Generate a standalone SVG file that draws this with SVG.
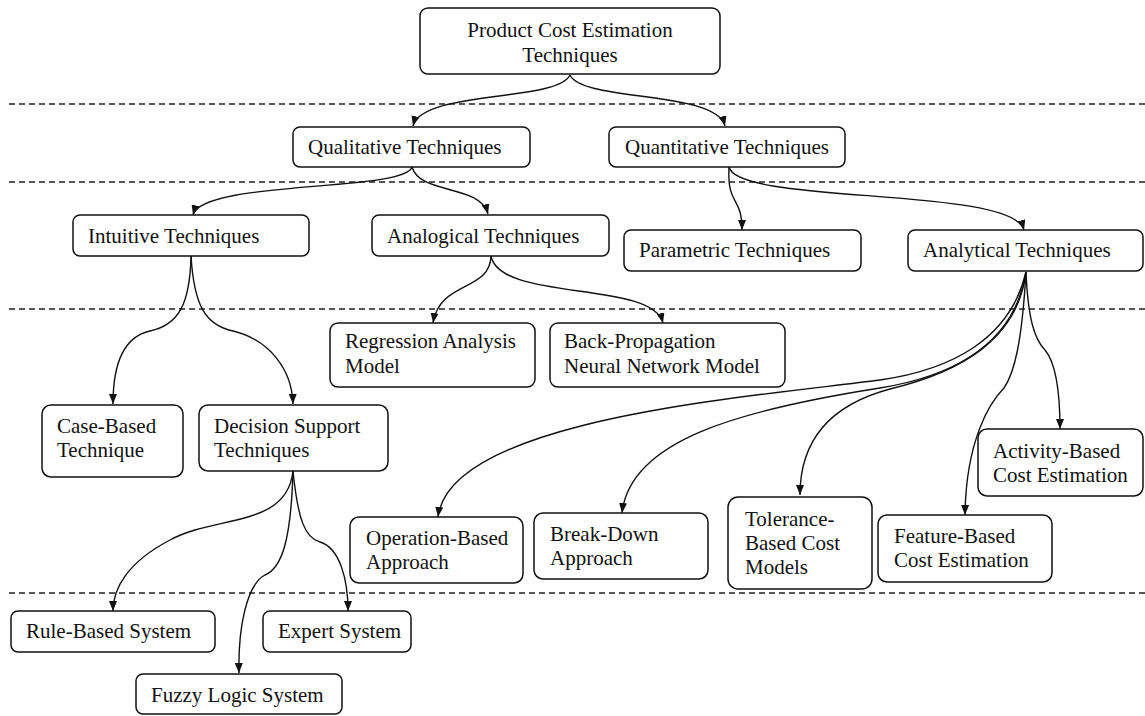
<svg xmlns="http://www.w3.org/2000/svg" width="1145" height="716" viewBox="0 0 1145 716">
  <style>
    .box { fill: #fff; stroke: #111; stroke-width: 1.5; }
    .lbl { font-family: "Liberation Serif", "Times New Roman", serif; font-size: 21px; fill: #111; }
    .sep { stroke: #222; stroke-width: 1.4; stroke-dasharray: 6 4; fill: none; }
    .edge { fill: none; stroke: #111; stroke-width: 1.4; marker-end: url(#arrow); }
  </style>
  <defs>
    <marker id="arrow" viewBox="0 0 10 8" refX="10" refY="4" markerWidth="10" markerHeight="8" markerUnits="userSpaceOnUse" orient="auto">
      <path d="M0,0 L10,4 L0,8 z" fill="#111"/>
    </marker>
  </defs>
  <rect width="1145" height="716" fill="#fff"/>

  <!-- level separators -->
  <g id="separators">
    <line class="sep" x1="9" y1="104" x2="1145" y2="104"/>
    <line class="sep" x1="9" y1="182" x2="1145" y2="182"/>
    <line class="sep" x1="9" y1="309" x2="1145" y2="309"/>
    <line class="sep" x1="9" y1="593" x2="1145" y2="593"/>
  </g>

  <!-- connectors -->
  <g id="connectors">
    <path class="edge" d="M570,75 C558,102 422,90 413,126"/>
    <path class="edge" d="M570,75 C582,102 716,90 725,126"/>
    <path class="edge" d="M412,167 C405,192 202,180 193,215"/>
    <path class="edge" d="M412,167 C420,195 480,184 488,214"/>
    <path class="edge" d="M729,167 C727,207 742,195 742,230"/>
    <path class="edge" d="M729,167 C738,205 1012,186 1024,230"/>
    <path class="edge" d="M191,256 C190,305 178,325 150,331 C118,338 113,375 113,404"/>
    <path class="edge" d="M191,256 C194,305 205,325 233,331 C270,340 292,370 293,404"/>
    <path class="edge" d="M491,256 C490,292 440,280 433,323"/>
    <path class="edge" d="M491,256 C500,302 652,280 663,323"/>
    <path class="edge" d="M293,471 C287,528 215,515 170,540 C128,562 113,588 113,611"/>
    <path class="edge" d="M293,471 C291,540 282,568 265,575 C246,585 238,630 239,673"/>
    <path class="edge" d="M293,471 C298,520 305,538 320,542 C340,548 348,580 348,611"/>
    <path class="edge" d="M1026,272 C1010,340 950,370 880,380 C740,398 450,420 438,517"/>
    <path class="edge" d="M1026,272 C1015,340 960,375 880,388 C740,410 630,440 622,513"/>
    <path class="edge" d="M1026,272 C1018,340 960,372 890,389 C830,405 800,440 800,495"/>
    <path class="edge" d="M1026,272 C1022,340 1015,372 1004,388 C990,402 966,440 965,515"/>
    <path class="edge" d="M1026,272 C1028,320 1035,340 1045,350 C1055,362 1060,390 1060,429"/>
  </g>

  <g id="n-root">
    <rect class="box" x="420" y="8" width="300" height="66" rx="8"/>
    <text class="lbl" x="570" y="37" text-anchor="middle">Product Cost Estimation</text>
    <text class="lbl" x="570" y="62" text-anchor="middle">Techniques</text>
  </g>
  <g id="n-qualitative">
    <rect class="box" x="293" y="127" width="237" height="40" rx="7"/>
    <text class="lbl" x="308" y="154">Qualitative Techniques</text>
  </g>
  <g id="n-quantitative">
    <rect class="box" x="609" y="127" width="236" height="40" rx="7"/>
    <text class="lbl" x="625" y="154">Quantitative Techniques</text>
  </g>
  <g id="n-intuitive">
    <rect class="box" x="73" y="215" width="236" height="41" rx="7"/>
    <text class="lbl" x="88" y="243">Intuitive Techniques</text>
  </g>
  <g id="n-analogical">
    <rect class="box" x="372" y="215" width="237" height="41" rx="7"/>
    <text class="lbl" x="387" y="243">Analogical Techniques</text>
  </g>
  <g id="n-parametric">
    <rect class="box" x="624" y="230" width="237" height="41" rx="7"/>
    <text class="lbl" x="639" y="257">Parametric Techniques</text>
  </g>
  <g id="n-analytical">
    <rect class="box" x="908" y="230" width="235" height="41" rx="7"/>
    <text class="lbl" x="923" y="257">Analytical Techniques</text>
  </g>
  <g id="n-regression">
    <rect class="box" x="330" y="323" width="205" height="64" rx="8"/>
    <text class="lbl" x="345" y="348">Regression Analysis</text>
    <text class="lbl" x="345" y="373">Model</text>
  </g>
  <g id="n-backprop">
    <rect class="box" x="550" y="323" width="235" height="64" rx="8"/>
    <text class="lbl" x="564" y="348">Back-Propagation</text>
    <text class="lbl" x="564" y="373">Neural Network Model</text>
  </g>
  <g id="n-casebased">
    <rect class="box" x="42" y="405" width="141" height="72" rx="9"/>
    <text class="lbl" x="57" y="433">Case-Based</text>
    <text class="lbl" x="57" y="457">Technique</text>
  </g>
  <g id="n-decision">
    <rect class="box" x="199" y="405" width="189" height="66" rx="9"/>
    <text class="lbl" x="214" y="433">Decision Support</text>
    <text class="lbl" x="214" y="457">Techniques</text>
  </g>
  <g id="n-activity">
    <rect class="box" x="978" y="429" width="165" height="67" rx="9"/>
    <text class="lbl" x="993" y="458">Activity-Based</text>
    <text class="lbl" x="993" y="482">Cost Estimation</text>
  </g>
  <g id="n-operation">
    <rect class="box" x="350" y="517" width="173" height="66" rx="9"/>
    <text class="lbl" x="366" y="545">Operation-Based</text>
    <text class="lbl" x="366" y="569">Approach</text>
  </g>
  <g id="n-breakdown">
    <rect class="box" x="534" y="513" width="174" height="66" rx="9"/>
    <text class="lbl" x="550" y="541">Break-Down</text>
    <text class="lbl" x="550" y="565">Approach</text>
  </g>
  <g id="n-tolerance">
    <rect class="box" x="728" y="497" width="144" height="92" rx="10"/>
    <text class="lbl" x="745" y="526">Tolerance-</text>
    <text class="lbl" x="745" y="550">Based Cost</text>
    <text class="lbl" x="745" y="574">Models</text>
  </g>
  <g id="n-feature">
    <rect class="box" x="878" y="515" width="174" height="67" rx="9"/>
    <text class="lbl" x="894" y="543">Feature-Based</text>
    <text class="lbl" x="894" y="567">Cost Estimation</text>
  </g>
  <g id="n-rulebased">
    <rect class="box" x="11" y="611" width="204" height="41" rx="7"/>
    <text class="lbl" x="26" y="638">Rule-Based System</text>
  </g>
  <g id="n-expert">
    <rect class="box" x="263" y="611" width="148" height="41" rx="7"/>
    <text class="lbl" x="278" y="638">Expert System</text>
  </g>
  <g id="n-fuzzy">
    <rect class="box" x="136" y="674" width="206" height="40" rx="7"/>
    <text class="lbl" x="151" y="702">Fuzzy Logic System</text>
  </g>
</svg>
